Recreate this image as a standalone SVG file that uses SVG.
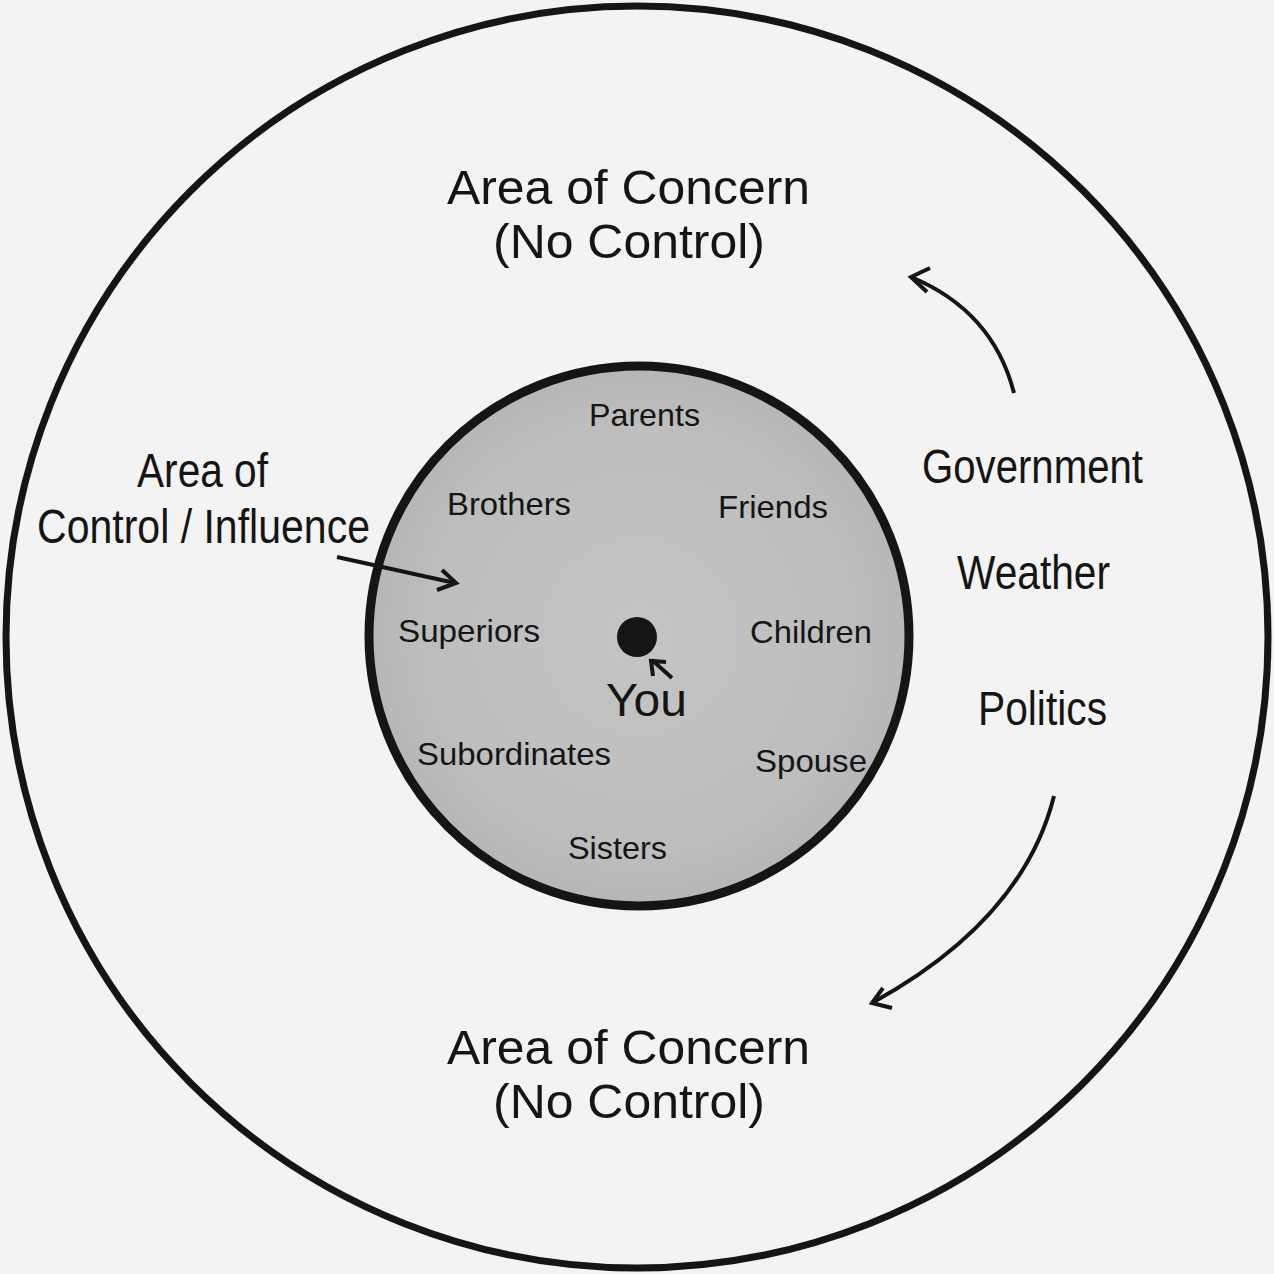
<svg xmlns="http://www.w3.org/2000/svg" width="1274" height="1274" viewBox="0 0 1274 1274">
<defs>
<radialGradient id="g" cx="50%" cy="50%" r="50%">
<stop offset="0" stop-color="#c4c4c4"/>
<stop offset="0.8" stop-color="#bdbdbd"/>
<stop offset="1" stop-color="#b6b6b6"/>
</radialGradient>
<style>
text{font-family:"Liberation Sans",Arial,sans-serif;fill:#151515}
.big{font-size:49px}
.sm{font-size:32px}
.ln{fill:none;stroke:#151515;stroke-width:4;stroke-linecap:butt;stroke-linejoin:miter}
</style>
</defs>
<rect width="1274" height="1274" fill="#f3f3f3"/>
<g id="outer">
<circle cx="637" cy="637" r="631" fill="#f3f3f3" stroke="#151515" stroke-width="7"/>
<text class="big" x="447" y="204" textLength="363" lengthAdjust="spacingAndGlyphs">Area of Concern</text>
<text class="big" x="493" y="258" textLength="272" lengthAdjust="spacingAndGlyphs">(No Control)</text>
<text class="big" x="447" y="1064" textLength="363" lengthAdjust="spacingAndGlyphs">Area of Concern</text>
<text class="big" x="493" y="1118" textLength="272" lengthAdjust="spacingAndGlyphs">(No Control)</text>
</g>
<g id="control-label">
<text class="big" x="137" y="487" textLength="131" lengthAdjust="spacingAndGlyphs">Area of</text>
<text class="big" x="37" y="543" textLength="333" lengthAdjust="spacingAndGlyphs">Control / Influence</text>
</g>
<g id="concerns">
<text class="big" x="922" y="483" textLength="221" lengthAdjust="spacingAndGlyphs">Government</text>
<text class="big" x="957" y="589" textLength="153" lengthAdjust="spacingAndGlyphs">Weather</text>
<text class="big" x="978" y="725" textLength="129" lengthAdjust="spacingAndGlyphs">Politics</text>
</g>
<g id="inner">
<circle cx="639" cy="636" r="270" fill="url(#g)" stroke="#151515" stroke-width="9"/>
<text class="sm" x="589" y="426" textLength="111" lengthAdjust="spacingAndGlyphs">Parents</text>
<text class="sm" x="447" y="515" textLength="124" lengthAdjust="spacingAndGlyphs">Brothers</text>
<text class="sm" x="718" y="518" textLength="110" lengthAdjust="spacingAndGlyphs">Friends</text>
<text class="sm" x="398" y="642" textLength="142" lengthAdjust="spacingAndGlyphs">Superiors</text>
<text class="sm" x="750" y="643" textLength="122" lengthAdjust="spacingAndGlyphs">Children</text>
<text class="sm" x="417" y="765" textLength="194" lengthAdjust="spacingAndGlyphs">Subordinates</text>
<text class="sm" x="755" y="772" textLength="112" lengthAdjust="spacingAndGlyphs">Spouse</text>
<text class="sm" x="568" y="859" textLength="99" lengthAdjust="spacingAndGlyphs">Sisters</text>
</g>
<g id="you">
<circle cx="637" cy="637" r="20" fill="#151515"/>
<text x="606" y="716" font-size="46" textLength="81" lengthAdjust="spacingAndGlyphs">You</text>
</g>
<g id="connectors">
<path class="ln" d="M672 678 L652 660"/>
<path class="ln" d="M653 676 L651 661 L666 662"/>
<path class="ln" d="M337 557 L455 583"/>
<path class="ln" d="M437 590 L456 583 L442 570"/>
<path class="ln" d="M1014 393 Q993 311 911 277"/>
<path class="ln" d="M930 268 L911 277 L927 292"/>
<path class="ln" d="M1054 796 Q1023 920 872 1003"/>
<path class="ln" d="M883 988 L872 1003 L892 1008"/>
</g>
</svg>
